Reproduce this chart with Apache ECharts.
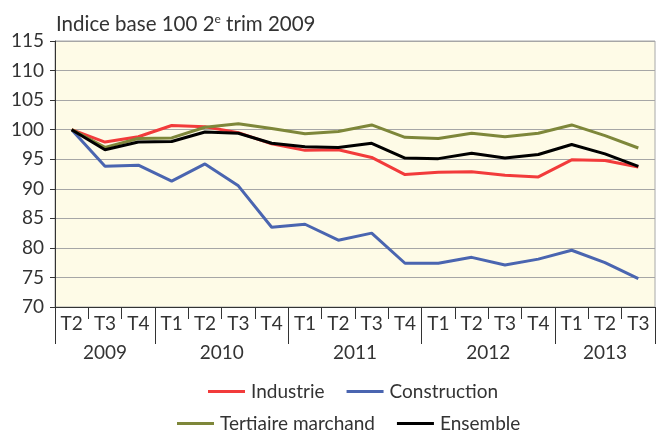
<!DOCTYPE html>
<html>
<head>
<meta charset="utf-8">
<script src="https://cdn.jsdelivr.net/npm/echarts@6/dist/echarts.min.js"></script>
<style>
html,body{margin:0;padding:0;background:#fff;}
#chart{width:656px;height:432px;}
</style>
</head>
<body>
<div id="chart"></div>
<script>
var quarters = ['T2','T3','T4','T1','T2','T3','T4','T1','T2','T3','T4','T1','T2','T3','T4','T1','T2','T3'];
var years = ['2009','2010','2011','2012','2013'];
var quartersPerYear = [3,4,4,4,3];
var industrie = [100,97.9,98.8,100.7,100.5,99.5,97.6,96.5,96.6,95.3,92.4,92.8,92.9,92.3,92.0,94.9,94.8,93.7];
var construction = [100,93.8,94.0,91.3,94.2,90.5,83.5,84.0,81.3,82.5,77.4,77.4,78.4,77.1,78.1,79.6,77.5,74.8];
var tertiaire = [100,97.0,98.5,98.6,100.4,101.0,100.2,99.3,99.7,100.8,98.7,98.5,99.4,98.8,99.4,100.8,99.0,96.9];
var ensemble = [100,96.6,97.9,98.0,99.6,99.4,97.7,97.1,97.0,97.7,95.2,95.1,96.0,95.2,95.8,97.5,95.9,93.8];
var yTicks = {min:70, max:115, step:5};

// Year axis: half-quarter slots, boundary ticks and centered labels
var halfSlots = [];
var boundaryIdx = {0:true};
var labelIdx = {};
var pos = 0;
for (var i = 0; i < years.length; i++) {
  var start = pos;
  pos += quartersPerYear[i] * 2;
  boundaryIdx[pos] = true;
  labelIdx[(start + pos) / 2] = years[i];
}
for (var k = 0; k <= pos; k++) halfSlots.push(labelIdx[k] || '');

var FONT = 'Lato';
var TXT = '#333333';

var chart = echarts.init(document.getElementById('chart'), null, {renderer:'canvas'});
chart.setOption({
  animation:false,
  backgroundColor:'#ffffff',
  title:{
    text:'Indice base 100 2{sup|e} trim 2009',
    left:51, top:8,
    textStyle:{
      fontFamily:FONT, fontSize:20.5, fontWeight:'normal', color:TXT,
      rich:{sup:{fontFamily:FONT, fontSize:12, color:TXT, padding:[0,0,10,0]}}
    }
  },
  grid:{left:55, right:1, top:41, bottom:125, show:true, backgroundColor:'#FEFBE7', borderColor:'#A8A8A8', borderWidth:1},
  legend:[
    {data:['Industrie','Construction'], left:203, top:377, icon:'rect', itemWidth:37, itemHeight:3, itemGap:22,
     textStyle:{fontFamily:FONT, fontSize:19, color:TXT, padding:[0,0,0,1]}},
    {data:['Tertiaire marchand','Ensemble'], left:172, top:409, icon:'rect', itemWidth:37, itemHeight:3, itemGap:22,
     textStyle:{fontFamily:FONT, fontSize:19, color:TXT, padding:[0,0,0,1]}}
  ],
  xAxis:[
    {type:'category', data:quarters, boundaryGap:true, position:'bottom',
     axisLine:{lineStyle:{color:'#333', width:1}},
     axisTick:{show:true, length:12, lineStyle:{color:'#333'}},
     axisLabel:{fontFamily:FONT, fontSize:19, color:TXT, margin:7, interval:0},
     splitLine:{show:false}},
    {type:'category', data:halfSlots, boundaryGap:false, position:'bottom',
     axisLine:{show:false},
     axisTick:{show:true, length:37, lineStyle:{color:'#333'}, interval:function(idx){return !!boundaryIdx[idx];}},
     axisLabel:{fontFamily:FONT, fontSize:19, color:TXT, margin:36, interval:function(idx){return !!labelIdx[idx];}},
     splitLine:{show:false}}
  ],
  yAxis:{type:'value', min:yTicks.min, max:yTicks.max, interval:yTicks.step,
    axisLine:{show:true, lineStyle:{color:'#333'}},
    axisTick:{show:true, length:5, lineStyle:{color:'#333'}},
    axisLabel:{fontFamily:FONT, fontSize:19, color:TXT, margin:11},
    splitLine:{lineStyle:{color:'#A6A6A6', width:1}}
  },
  series:[
    {name:'Industrie', type:'line', data:industrie, symbol:'none', lineStyle:{width:3, color:'#F23B3B'}, itemStyle:{color:'#F23B3B'}, z:3},
    {name:'Construction', type:'line', data:construction, symbol:'none', lineStyle:{width:3, color:'#4A65B0'}, itemStyle:{color:'#4A65B0'}, z:2},
    {name:'Tertiaire marchand', type:'line', data:tertiaire, symbol:'none', lineStyle:{width:3, color:'#7E873A'}, itemStyle:{color:'#7E873A'}, z:4},
    {name:'Ensemble', type:'line', data:ensemble, symbol:'none', lineStyle:{width:3, color:'#000000'}, itemStyle:{color:'#000000'}, z:5}
  ]
});
</script>
</body>
</html>
